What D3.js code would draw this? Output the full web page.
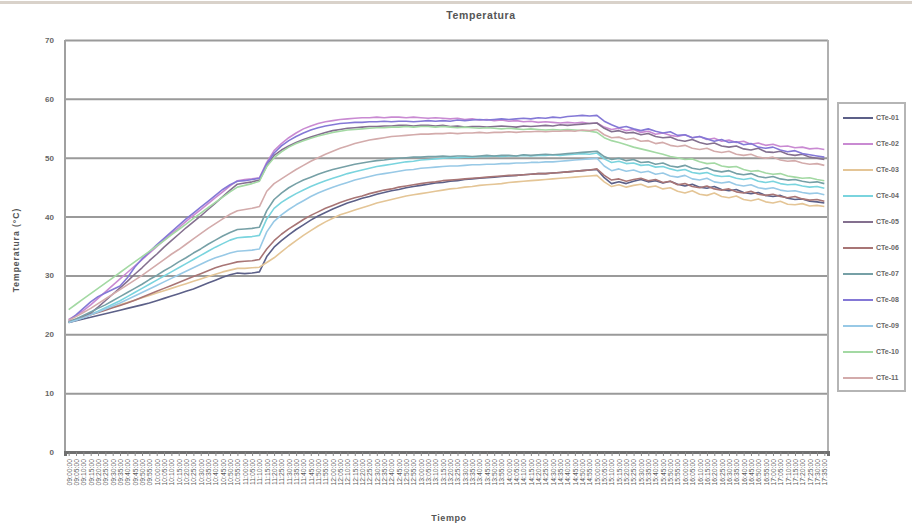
<!DOCTYPE html>
<html>
<head>
<meta charset="utf-8">
<script src="https://cdn.jsdelivr.net/npm/d3@7"></script>
<style>
  body { margin: 0; background: #fff; }
  svg { display: block; font-family: "Liberation Sans", Arial, sans-serif; }
</style>
</head>
<body>
<svg id="chart" width="912" height="529"></svg>
<script>
// Sampling times (category axis)
const times = [
  "09:00:00","09:05:00","09:10:00","09:15:00","09:20:00","09:25:00","09:30:00","09:35:00","09:40:00","09:45:00","09:50:00","09:55:00",
  "10:00:00","10:05:00","10:10:00","10:15:00","10:20:00","10:25:00","10:30:00","10:35:00","10:40:00","10:45:00","10:50:00","10:55:00",
  "11:00:00","11:05:00","11:10:00","11:15:00","11:20:00","11:25:00","11:30:00","11:35:00","11:40:00","11:45:00","11:50:00","11:55:00",
  "12:00:00","12:05:00","12:10:00","12:15:00","12:20:00","12:25:00","12:30:00","12:35:00","12:40:00","12:45:00","12:50:00","12:55:00",
  "13:00:00","13:05:00","13:10:00","13:15:00","13:20:00","13:25:00","13:30:00","13:35:00","13:40:00","13:45:00","13:50:00","13:55:00",
  "14:00:00","14:05:00","14:10:00","14:15:00","14:20:00","14:25:00","14:30:00","14:35:00","14:40:00","14:45:00","14:50:00","14:55:00",
  "15:00:00","15:05:00","15:10:00","15:15:00","15:20:00","15:25:00","15:30:00","15:35:00","15:40:00","15:45:00","15:50:00","15:55:00",
  "16:00:00","16:05:00","16:10:00","16:15:00","16:20:00","16:25:00","16:30:00","16:35:00","16:40:00","16:45:00","16:50:00","16:55:00",
  "17:00:00","17:05:00","17:10:00","17:15:00","17:20:00","17:25:00","17:30:00","17:35:00"
];

const yTicks = [0, 10, 20, 30, 40, 50, 60, 70];

const seriesNames = ["CTe-01","CTe-02","CTe-03","CTe-04","CTe-05","CTe-06","CTe-07","CTe-08","CTe-09","CTe-10","CTe-11"];
const seriesColors = ["#5c6088","#c98ad2","#e4c596","#7ad4de","#84708f","#a87575","#76a0a6","#8478d6","#98c9e6","#a3d9a3","#d3abab"];

// Temperature readings (°C), one value per sampling time
const cte01 = [22.0,22.3,22.6,22.9,23.2,23.5,23.8,24.1,24.4,24.7, 25.0,25.3,25.7,26.1,26.5,26.9,27.3,27.7,28.2,28.7,
  29.2,29.7,30.1,30.4,30.3,30.4,30.6,33.2,34.8,35.9, 36.9,37.8,38.6,39.4,40.1,40.7,41.3,41.8,42.3,42.7,
  43.1,43.4,43.8,44.1,44.4,44.6,44.9,45.1,45.3,45.5, 45.7,45.8,46.0,46.1,46.3,46.4,46.5,46.6,46.7,46.8,
  46.9,47.0,47.1,47.2,47.3,47.3,47.4,47.5,47.6,47.7, 47.8,47.9,48.0,46.6,45.6,45.9,45.6,46.0,46.3,45.9,
  46.1,45.7,46.0,45.5,45.2,45.5,45.0,44.8,45.1,44.6, 44.4,44.6,44.1,43.9,44.1,43.6,43.4,43.6,43.1,42.9,
  43.0,42.6,42.5,42.3];
const cte02 = [22.5,23.2,24.0,25.0,26.1,27.2,28.3,29.4,30.5,31.6, 32.7,33.8,34.9,36.0,37.1,38.1,39.2,40.2,41.2,42.2,
  43.2,44.2,45.2,46.1,46.3,46.4,46.6,49.2,51.2,52.4, 53.4,54.2,54.9,55.4,55.8,56.1,56.3,56.5,56.6,56.7,
  56.8,56.8,56.9,56.8,56.9,56.9,56.8,56.9,56.8,56.7, 56.8,56.7,56.6,56.7,56.5,56.6,56.4,56.5,56.3,56.4,
  56.2,56.3,56.1,56.2,56.0,56.1,56.0,55.9,56.0,55.9, 56.0,55.8,55.9,55.2,54.8,55.0,54.6,54.8,54.3,54.5,
  54.0,54.2,53.8,53.6,53.9,53.4,53.6,53.1,53.3,52.8, 53.0,52.6,52.8,52.3,52.5,52.1,52.3,51.9,52.0,51.7,
  51.8,51.5,51.6,51.4];
const cte03 = [22.2,22.6,23.0,23.4,23.8,24.2,24.6,25.0,25.4,25.8, 26.2,26.6,27.0,27.4,27.8,28.2,28.6,29.0,29.4,29.8,
  30.2,30.6,30.9,31.2,31.2,31.3,31.4,32.2,33.0,34.0, 35.0,35.9,36.8,37.6,38.4,39.1,39.7,40.3,40.7,41.1,
  41.5,41.9,42.3,42.6,42.9,43.2,43.5,43.7,43.9,44.1, 44.3,44.5,44.7,44.8,45.0,45.1,45.3,45.4,45.5,45.6,
  45.8,45.9,46.0,46.1,46.2,46.3,46.4,46.5,46.6,46.7, 46.8,46.9,47.0,45.9,45.1,45.4,45.0,45.3,45.5,45.0,
  45.2,44.7,44.9,44.3,44.0,44.4,43.8,43.6,44.0,43.4, 43.2,43.5,42.9,42.7,43.0,42.5,42.3,42.6,42.1,42.0,
  42.2,41.8,41.9,41.7];
const cte04 = [22.0,22.4,22.9,23.4,23.9,24.5,25.1,25.7,26.4,27.1, 27.8,28.5,29.2,29.9,30.6,31.3,32.0,32.7,33.4,34.1,
  34.8,35.4,36.0,36.4,36.5,36.6,36.8,39.6,41.4,42.4, 43.2,43.9,44.5,45.1,45.6,46.1,46.5,46.9,47.3,47.6,
  47.9,48.2,48.5,48.7,48.9,49.1,49.3,49.4,49.6,49.7, 49.8,49.9,50.0,50.0,50.1,50.1,50.2,50.2,50.3,50.2,
  50.3,50.3,50.4,50.3,50.4,50.4,50.5,50.4,50.5,50.6, 50.7,50.6,50.8,49.8,49.2,49.4,49.0,49.1,48.7,48.8,
  48.4,48.5,48.1,47.8,48.0,47.5,47.3,47.5,47.0,46.8, 46.9,46.5,46.3,46.5,46.0,45.8,46.0,45.6,45.4,45.5,
  45.2,45.0,45.1,44.8];
const cte05 = [22.0,22.4,23.0,23.6,24.6,25.7,26.8,27.9,29.0,30.2, 31.3,32.5,33.6,34.8,35.9,37.0,38.1,39.1,40.1,41.2,
  42.3,43.4,44.5,45.5,45.7,45.9,46.2,48.6,50.4,51.3, 52.0,52.6,53.1,53.5,53.9,54.3,54.6,54.8,55.0,55.1,
  55.2,55.3,55.3,55.4,55.4,55.5,55.5,55.4,55.5,55.5, 55.4,55.5,55.3,55.4,55.2,55.3,55.3,55.2,55.3,55.4,
  55.3,55.2,55.4,55.3,55.4,55.5,55.4,55.6,55.5,55.6, 55.7,55.8,55.9,55.0,54.4,54.6,54.2,54.3,53.9,54.1,
  53.6,53.4,53.5,53.0,52.8,53.1,52.6,52.3,52.5,52.0, 51.8,52.0,51.5,51.3,51.6,51.0,50.9,51.1,50.6,50.4,
  50.6,50.1,49.9,49.7];
const cte06 = [22.1,22.5,22.9,23.3,23.7,24.1,24.5,24.9,25.3,25.8, 26.3,26.8,27.3,27.8,28.3,28.8,29.3,29.8,30.3,30.8,
  31.3,31.7,32.0,32.3,32.4,32.5,32.7,34.5,35.9,37.0, 37.9,38.7,39.5,40.2,40.8,41.4,41.9,42.4,42.8,43.2,
  43.5,43.9,44.2,44.5,44.7,45.0,45.2,45.4,45.6,45.8, 45.9,46.1,46.2,46.3,46.4,46.5,46.6,46.7,46.8,46.9,
  47.0,47.0,47.1,47.2,47.3,47.3,47.4,47.5,47.6,47.7, 47.8,47.9,48.1,47.0,46.2,46.4,46.0,46.3,46.5,46.1,
  46.3,45.8,46.0,45.4,45.6,45.1,44.9,45.2,44.7,44.5, 44.7,44.2,44.0,44.3,43.8,43.6,43.8,43.4,43.2,43.4,
  43.0,42.8,42.9,42.6];
const cte07 = [22.1,22.6,23.2,23.8,24.4,25.0,25.7,26.4,27.1,27.8, 28.5,29.3,30.0,30.8,31.5,32.3,33.0,33.8,34.5,35.3,
  36.0,36.7,37.3,37.8,37.9,38.0,38.2,41.0,42.9,44.0, 44.9,45.6,46.2,46.7,47.2,47.6,48.0,48.3,48.6,48.9,
  49.1,49.3,49.5,49.6,49.8,49.9,50.0,50.1,50.1,50.2, 50.2,50.3,50.2,50.3,50.3,50.2,50.3,50.4,50.3,50.4,
  50.4,50.3,50.5,50.4,50.5,50.6,50.5,50.6,50.7,50.8, 50.9,51.0,51.1,50.2,49.7,49.9,49.5,49.7,49.2,49.3,
  48.9,49.1,48.6,48.4,48.7,48.2,48.0,48.3,47.8,47.6, 47.8,47.3,47.1,47.3,46.8,46.6,46.8,46.4,46.2,46.3,
  46.0,45.8,45.9,45.6];
const cte08 = [22.3,23.3,24.4,25.5,26.4,27.0,27.6,28.2,29.6,31.4, 32.8,34.0,35.2,36.3,37.4,38.5,39.6,40.6,41.6,42.6,
  43.6,44.6,45.4,46.0,46.1,46.3,46.5,49.0,50.8,52.0, 52.9,53.6,54.2,54.7,55.1,55.4,55.6,55.8,55.9,56.0,
  56.0,56.1,56.1,56.2,56.1,56.2,56.2,56.1,56.2,56.3, 56.2,56.3,56.2,56.4,56.3,56.4,56.5,56.4,56.5,56.6,
  56.5,56.6,56.7,56.6,56.8,56.7,56.9,56.8,57.0,57.1, 57.2,57.1,57.2,56.2,55.6,55.1,55.3,54.9,54.6,54.9,
  54.5,54.2,54.4,53.8,53.9,53.4,53.6,53.2,52.8,53.1, 52.6,52.7,52.2,52.4,51.8,51.6,51.8,51.3,51.0,51.2,
  50.7,50.5,50.3,50.1];
const cte09 = [22.0,22.4,22.8,23.3,23.8,24.3,24.8,25.3,25.9,26.5, 27.1,27.7,28.3,28.9,29.5,30.1,30.7,31.3,31.9,32.5,
  33.0,33.4,33.8,34.1,34.2,34.3,34.5,37.4,39.2,40.3, 41.2,42.0,42.7,43.4,44.0,44.5,45.0,45.4,45.8,46.2,
  46.5,46.8,47.1,47.3,47.5,47.7,47.9,48.0,48.2,48.3, 48.4,48.5,48.6,48.6,48.7,48.8,48.8,48.9,48.9,49.0,
  49.0,49.1,49.1,49.2,49.2,49.3,49.3,49.4,49.5,49.6, 49.7,49.8,49.9,48.6,47.8,48.1,47.7,47.9,47.5,47.7,
  47.2,47.4,46.9,46.7,47.0,46.4,46.2,46.5,45.9,45.7, 45.9,45.4,45.2,45.4,44.9,44.7,44.9,44.5,44.3,44.4,
  44.1,43.9,44.0,43.7];
const cte10 = [24.2,25.1,26.0,26.9,27.8,28.7,29.6,30.5,31.4,32.3, 33.2,34.1,35.0,35.9,36.9,37.8,38.7,39.7,40.6,41.5,
  42.4,43.3,44.2,45.0,45.3,45.6,46.0,48.5,50.0,51.0, 51.8,52.4,52.9,53.3,53.7,54.0,54.3,54.5,54.7,54.8,
  54.9,55.0,55.1,55.1,55.2,55.2,55.3,55.2,55.3,55.3, 55.2,55.3,55.2,55.1,55.2,55.1,55.0,55.1,55.0,54.9,
  55.0,54.9,54.8,54.9,54.8,54.7,54.8,54.7,54.8,54.7, 54.6,54.5,54.3,53.4,52.9,52.6,52.2,51.8,51.5,51.2,
  50.9,50.6,50.2,50.0,49.7,49.8,49.3,49.0,49.1,48.6, 48.4,48.5,48.0,47.7,47.8,47.4,47.2,47.3,46.9,46.7,
  46.5,46.6,46.3,46.1];
const cte11 = [22.4,23.0,23.7,24.4,25.2,26.0,26.8,27.6,28.4,29.2, 30.0,30.9,31.8,32.7,33.6,34.4,35.3,36.2,37.1,38.0,
  38.8,39.6,40.4,41.0,41.2,41.4,41.7,44.3,45.6,46.4, 47.2,48.0,48.7,49.4,50.0,50.6,51.1,51.6,52.0,52.4,
  52.7,53.0,53.2,53.4,53.6,53.7,53.8,53.9,54.0,54.0, 54.1,54.1,54.2,54.1,54.2,54.2,54.3,54.2,54.3,54.3,
  54.4,54.3,54.4,54.4,54.5,54.4,54.5,54.5,54.6,54.5, 54.7,54.6,54.8,53.9,53.4,53.5,53.1,53.3,52.8,52.9,
  52.4,52.6,52.1,51.9,52.1,51.6,51.4,51.6,51.1,50.9, 51.1,50.6,50.4,50.6,50.1,49.9,50.1,49.6,49.4,49.5,
  49.1,48.9,49.0,48.7];

const seriesValues = [cte01, cte02, cte03, cte04, cte05, cte06, cte07, cte08, cte09, cte10, cte11];

const svg = d3.select("#chart");
const W = 912, H = 529;
const plot = { left: 65, right: 828, top: 40, bottom: 452 };

const x = d3.scalePoint().domain(times).range([plot.left, plot.right]).padding(0.5);
const y = d3.scaleLinear().domain([0, 70]).range([plot.bottom, plot.top]);

// chart frame top edge
svg.append("line")
  .attr("x1", 0).attr("x2", W).attr("y1", 2.5).attr("y2", 2.5)
  .attr("stroke", "#d9d2ca").attr("stroke-width", 3);

// title
svg.append("text")
  .attr("x", 481).attr("y", 19)
  .attr("text-anchor", "middle")
  .attr("font-size", 10.5).attr("font-weight", "bold").attr("fill", "#555")
  .attr("letter-spacing", 0.6)
  .text("Temperatura");

// horizontal gridlines + y labels
const yAxis = d3.axisLeft(y).tickValues(yTicks).tickSize(-(plot.right - plot.left)).tickPadding(11).tickFormat(d3.format("d"));
const gy = svg.append("g").attr("transform", `translate(${plot.left},0)`).call(yAxis);
gy.select(".domain").remove();
gy.selectAll(".tick line").attr("stroke", "#9a9a9a").attr("stroke-width", 2);
gy.selectAll(".tick text").attr("font-size", 8).attr("font-weight", "bold").attr("fill", "#666")
  .attr("font-family", "Liberation Sans, Arial, sans-serif");

// plot area border (left and right)
svg.append("line").attr("x1", plot.left).attr("x2", plot.left)
  .attr("y1", plot.top).attr("y2", plot.bottom)
  .attr("stroke", "#a0a0a0").attr("stroke-width", 2);
svg.append("line").attr("x1", plot.right).attr("x2", plot.right)
  .attr("y1", plot.top).attr("y2", plot.bottom)
  .attr("stroke", "#b0b0b0").attr("stroke-width", 2);

// category axis
const xAxis = d3.axisBottom(x).tickSize(4).tickPadding(3);
const gx = svg.append("g").attr("transform", `translate(0,${plot.bottom})`).call(xAxis);
gx.select(".domain").attr("stroke", "#707070").attr("stroke-width", 3);
gx.selectAll(".tick line").attr("stroke", "#888");
gx.selectAll(".tick text")
  .attr("font-size", 6.8).attr("fill", "#5a5a5a")
  .attr("font-family", "Liberation Sans, Arial, sans-serif")
  .attr("text-anchor", "end")
  .attr("dy", "0.35em")
  .attr("transform", "translate(0,4) rotate(-90)")
  .attr("x", -3).attr("y", 0);

// axis titles
svg.append("text")
  .attr("transform", "translate(19,250) rotate(-90)")
  .attr("text-anchor", "middle").attr("font-size", 8.5).attr("font-weight", "bold").attr("fill", "#555")
  .attr("letter-spacing", 1)
  .text("Temperatura (°C)");
svg.append("text")
  .attr("x", 449).attr("y", 521)
  .attr("text-anchor", "middle").attr("font-size", 9).attr("font-weight", "bold").attr("fill", "#555")
  .attr("letter-spacing", 0.6)
  .text("Tiempo");

// series lines
const line = d3.line().x((d, i) => x(times[i])).y(d => y(d));
svg.append("g").selectAll("path")
  .data(seriesValues)
  .join("path")
  .attr("d", d => line(d))
  .attr("fill", "none")
  .attr("stroke", (d, i) => seriesColors[i])
  .attr("stroke-width", 1.6)
  .attr("stroke-linejoin", "round");

// legend
const lg = svg.append("g");
lg.append("rect")
  .attr("x", 838).attr("y", 103).attr("width", 67).attr("height", 288)
  .attr("fill", "#fff").attr("stroke", "#b5b5b5").attr("stroke-width", 2);
const items = lg.selectAll("g.item").data(seriesNames).join("g")
  .attr("class", "item")
  .attr("transform", (d, i) => `translate(843,${118 + i * 26})`);
items.append("line")
  .attr("x1", 0).attr("x2", 30).attr("y1", 0).attr("y2", 0)
  .attr("stroke", (d, i) => seriesColors[i]).attr("stroke-width", 2);
items.append("text")
  .attr("x", 33).attr("y", 0).attr("dy", "0.35em")
  .attr("font-size", 7).attr("font-weight", "bold").attr("fill", "#666")
  .text(d => d);
</script>
</body>
</html>
